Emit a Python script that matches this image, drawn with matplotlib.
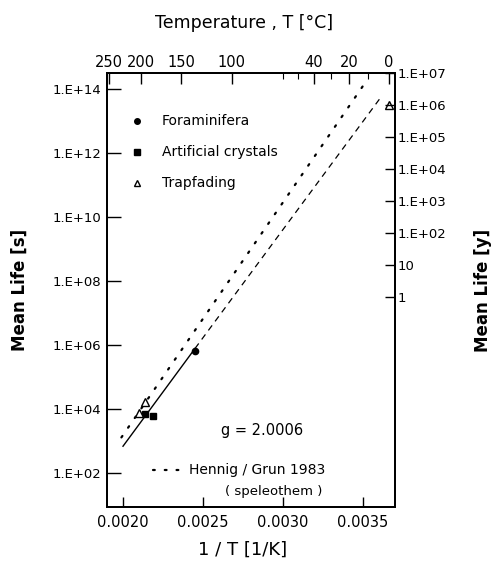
import numpy as np
import matplotlib
matplotlib.use("Agg")
import matplotlib.pyplot as plt

plt.rcParams["font.family"] = ["DejaVu Sans"]

# measured points (x = 1/T in 1/K, y = mean life in s)
foram_x = [0.00245]
foram_y = [6.5e5]
crystal_x = [0.00214, 0.00219]
crystal_y = [6.9e3, 6.0e3]
trap_x = [0.00210, 0.00214, 0.00366]
trap_y = [7.5e3, 1.66e4, 3.2e13]

# fitted line (solid over data, dashed extrapolation)
fit_x = [0.00200, 0.00245]
fit_y = [6.9e2, 7.8e5]
extra_x = [0.00245, 0.00362]
extra_y = [7.8e5, 6.3e13]

# Hennig / Grun 1983 (speleothem)
hg_x = [0.00199, 0.00350]
hg_y = [1.3e3, 1.25e14]

x_ticks = [0.0020, 0.0025, 0.0030, 0.0035]
x_labels = ["0.0020", "0.0025", "0.0030", "0.0035"]
y_ticks = [1e2, 1e4, 1e6, 1e8, 1e10, 1e12, 1e14]
y_labels = ["1.E+02", "1.E+04", "1.E+06", "1.E+08", "1.E+10", "1.E+12", "1.E+14"]
temp_ticks = [250, 200, 150, 100, 40, 20, 0]
temp_minor = [60, 50, 30, 10]
year_ticks = [1, 10, 1e2, 1e3, 1e4, 1e5, 1e6, 1e7]
year_labels = ["1", "10", "1.E+02", "1.E+03", "1.E+04", "1.E+05", "1.E+06", "1.E+07"]

SEC_PER_YEAR = 3.156e7
ymin, ymax = 10 ** 0.94, 10 ** 14.5

fig = plt.figure(figsize=(4.96, 5.63), dpi=100)
ax = fig.add_axes([107 / 496, 56 / 563, 288 / 496, 434 / 563])

ax.plot(fit_x, fit_y, color="black", lw=1.0)
ax.plot(extra_x, extra_y, color="black", lw=0.9, linestyle=(0, (5, 4)))
ax.plot(hg_x, hg_y, color="black", lw=1.6, linestyle=(0, (0.8, 4.5)), dash_capstyle="round")

ax.plot(foram_x, foram_y, "o", color="black", ms=4.5)
ax.plot(crystal_x, crystal_y, "s", color="black", ms=4.5)
ax.plot(trap_x, trap_y, "^", mfc="white", mec="black", mew=1.0, ms=5.5)

ax.set_xlim(0.0019, 0.0037)
ax.set_yscale("log")
ax.set_ylim(ymin, ymax)
ax.set_xticks(x_ticks)
ax.set_xticklabels(x_labels, fontsize=10.5)
ax.set_yticks(y_ticks)
ax.set_yticklabels(y_labels, fontsize=9.5)
ax.yaxis.set_minor_locator(matplotlib.ticker.NullLocator())
ax.tick_params(axis="y", direction="in", length=10, width=1.0, pad=4)
ax.tick_params(axis="x", direction="in", length=7, width=1.0, pad=6)

# top axis: temperature in deg C
top = ax.twiny()
top.set_xlim(ax.get_xlim())
top.set_xticks([1 / (t + 273.15) for t in temp_ticks])
top.set_xticklabels([str(t) for t in temp_ticks], fontsize=10.5)
top.set_xticks([1 / (t + 273.15) for t in temp_minor], minor=True)
top.tick_params(axis="x", which="major", direction="in", length=8, width=1.0, pad=2)
top.tick_params(axis="x", which="minor", direction="in", length=4, width=0.8)

# right axis: mean life in years
right = ax.twinx()
right.set_yscale("log")
right.set_ylim(ymin / SEC_PER_YEAR, ymax / SEC_PER_YEAR)
right.set_yticks(year_ticks)
right.set_yticklabels(year_labels, fontsize=9.5)
right.yaxis.set_minor_locator(matplotlib.ticker.NullLocator())
right.tick_params(axis="y", direction="in", length=7, width=1.0, pad=2)

for a in (ax, top, right):
    for s in a.spines.values():
        s.set_linewidth(1.2)

# legend drawn by hand
ax.plot([0.104], [0.889], "o", color="black", ms=4, transform=ax.transAxes)
ax.plot([0.104], [0.818], "s", color="black", ms=4.5, transform=ax.transAxes)
ax.plot([0.104], [0.747], "^", mfc="white", mec="black", ms=5, transform=ax.transAxes)
ax.text(0.19, 0.889, "Foraminifera", transform=ax.transAxes, fontsize=10, va="center")
ax.text(0.19, 0.818, "Artificial crystals", transform=ax.transAxes, fontsize=10, va="center")
ax.text(0.19, 0.747, "Trapfading", transform=ax.transAxes, fontsize=10, va="center")

ax.text(0.54, 0.177, "g = 2.0006", transform=ax.transAxes, fontsize=10.5, ha="center", va="center")
ax.plot([0.158, 0.272], [0.085, 0.085], color="black", lw=1.6,
        linestyle=(0, (0.8, 4.5)), dash_capstyle="round", transform=ax.transAxes)
ax.text(0.285, 0.085, "Hennig / Grun 1983", transform=ax.transAxes, fontsize=10, va="center")
ax.text(0.58, 0.035, "( speleothem )", transform=ax.transAxes, fontsize=9.5, ha="center", va="center")

fig.text(244 / 496, 1 - 23 / 563, "Temperature , T [°C]", fontsize=12.5, ha="center", va="center")
fig.text(243 / 496, 1 - 550 / 563, "1 / T [1/K]", fontsize=13, ha="center", va="center")
fig.text(20 / 496, 1 - 290 / 563, "Mean Life [s]", fontsize=12, fontweight="bold",
         rotation=90, ha="center", va="center")
fig.text(483 / 496, 1 - 290 / 563, "Mean Life [y]", fontsize=12, fontweight="bold",
         rotation=90, ha="center", va="center")

fig.savefig("out.png", dpi=100)
